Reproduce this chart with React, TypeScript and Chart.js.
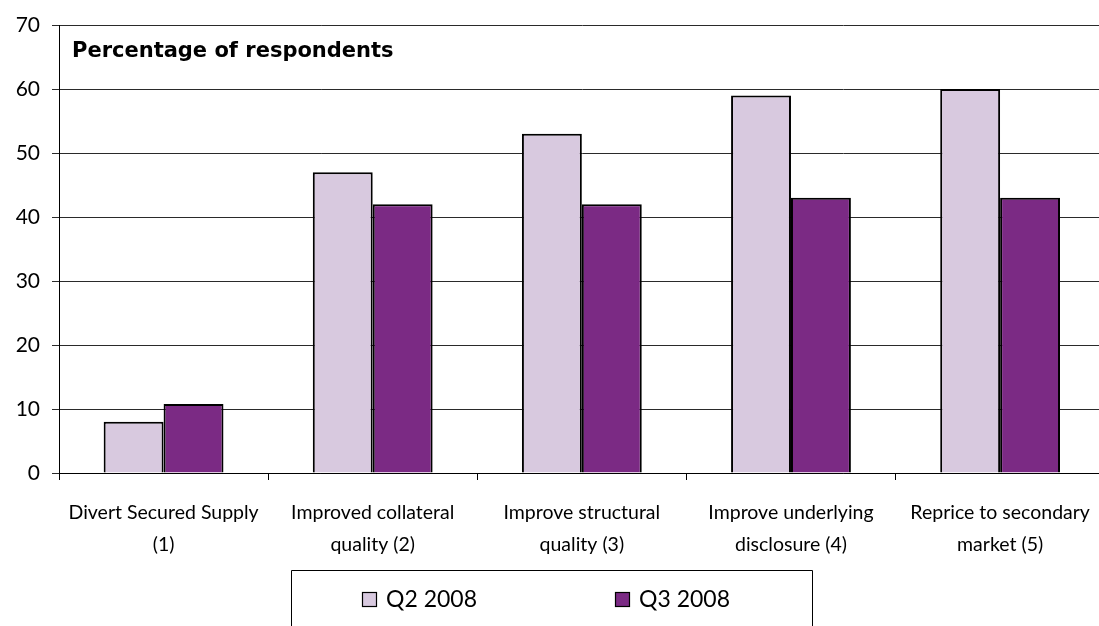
import { useEffect, useRef } from 'react';
import { Chart, registerables } from 'chart.js';

Chart.register(...registerables);

// Survey categories, two-line axis labels
const categories: string[][] = [
  ['Divert Secured Supply', '(1)'],
  ['Improved collateral', 'quality (2)'],
  ['Improve structural', 'quality (3)'],
  ['Improve underlying', 'disclosure (4)'],
  ['Reprice to secondary', 'market (5)'],
];

const seriesLabels = ['Q2 2008', 'Q3 2008'];
const q2Values = [8, 47, 53, 59, 60];
const q3Values = [10.8, 42, 42, 43, 43];

const yMin = 0;
const yMax = 70;
const yStep = 10;

const chartTitle = 'Percentage of respondents';

const LIGHT = '#D8C9DF';
const DARK = '#7B2A84';
const FONT = 'Lato, "Open Sans", sans-serif';
const TITLE_FONT = '"DejaVu Sans", Lato, sans-serif';

// Title inside the plot area and a framed legend under the axis labels
const overlayPlugin = {
  id: 'overlay',
  afterDraw(chart: any) {
    const { ctx, chartArea } = chart;
    ctx.save();
    ctx.fillStyle = '#000';
    ctx.font = `bold 21px ${TITLE_FONT}`;
    ctx.textBaseline = 'alphabetic';
    ctx.textAlign = 'left';
    ctx.fillText(chartTitle, chartArea.left + 13, chartArea.top + 32);

    // legend frame
    ctx.strokeStyle = '#000';
    ctx.lineWidth = 1;
    ctx.beginPath();
    ctx.moveTo(291.5, 700);
    ctx.lineTo(291.5, 570.5);
    ctx.lineTo(812.5, 570.5);
    ctx.lineTo(812.5, 700);
    ctx.stroke();

    ctx.font = `23px ${FONT}`;
    ctx.textBaseline = 'middle';
    chart.data.datasets.forEach((ds: any, i: number) => {
      const x = 362 + i * 253;
      ctx.fillStyle = ds.backgroundColor;
      ctx.fillRect(x, 592, 15, 15);
      ctx.strokeStyle = '#000';
      ctx.lineWidth = 1.2;
      ctx.strokeRect(x + 0.5, 592.5, 14, 14);
      ctx.fillStyle = '#000';
      ctx.fillText(ds.label, x + 24, 600);
    });
    ctx.restore();
  },
};

export default function App() {
  const canvasRef = useRef<HTMLCanvasElement | null>(null);

  useEffect(() => {
    if (!canvasRef.current) return;
    const chart = new Chart(canvasRef.current, {
      type: 'bar',
      data: {
        labels: categories,
        datasets: [
          {
            label: seriesLabels[0],
            data: q2Values,
            backgroundColor: LIGHT,
            borderColor: '#000',
            borderWidth: 2,
          },
          {
            label: seriesLabels[1],
            data: q3Values,
            backgroundColor: DARK,
            borderColor: '#000',
            borderWidth: 2,
          },
        ],
      },
      options: {
        responsive: false,
        animation: false,
        devicePixelRatio: 1,
        layout: { padding: { left: 0, right: 1, top: 25, bottom: 0 } },
        datasets: {
          bar: { barPercentage: 1, categoryPercentage: 0.573 },
        },
        plugins: {
          legend: { display: false },
          tooltip: { enabled: false },
          title: { display: false },
        },
        scales: {
          x: {
            afterFit: (scale: any) => {
              scale.height = 153;
            },
            grid: {
              drawOnChartArea: false,
              drawTicks: true,
              tickLength: 7,
              color: '#000',
            },
            border: { color: '#000', width: 1 },
            ticks: {
              color: '#000',
              padding: 17,
              maxRotation: 0,
              autoSkip: false,
              font: { family: FONT, size: 19.5, lineHeight: 32 / 19.5 },
            },
          },
          y: {
            min: yMin,
            max: yMax,
            afterFit: (scale: any) => {
              scale.width = 59;
            },
            grid: {
              color: '#2a2a2a',
              lineWidth: 1,
              drawTicks: true,
              tickLength: 7,
            },
            border: { color: '#000', width: 1 },
            ticks: {
              stepSize: yStep,
              color: '#000',
              padding: 12,
              font: { family: FONT, size: 21 },
            },
          },
        },
      },
      plugins: [overlayPlugin],
    });
    return () => chart.destroy();
  }, []);

  return (
    <div
      style={{
        position: 'fixed',
        left: 0,
        top: 0,
        width: 1099,
        height: 626,
        overflow: 'hidden',
        background: '#fff',
      }}
    >
      <canvas ref={canvasRef} width={1107} height={626} style={{ display: 'block' }} />
    </div>
  );
}
